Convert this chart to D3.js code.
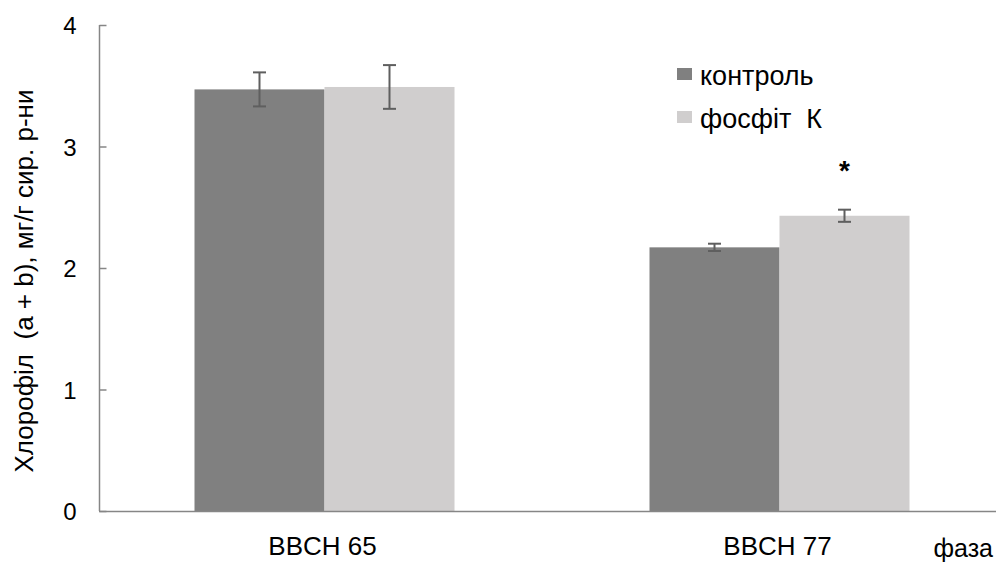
<!DOCTYPE html>
<html><head><meta charset="utf-8">
<script src="https://cdn.jsdelivr.net/npm/d3@7"></script>
<style>body{margin:0;background:#fff}svg{display:block}text{font-family:"Liberation Sans",Arial,sans-serif}</style>
</head><body>
<svg id="c" width="996" height="564"></svg>
<script>
const categories = ["BBCH 65", "BBCH 77"];
const seriesNames = ["контроль", "фосфіт\u00a0\u00a0К"];
const control = [3.47, 2.17];
const phosphite = [3.49, 2.43];
const controlErr = [0.14, 0.03];
const phosphiteErr = [0.18, 0.05];
const yTicks = [0, 1, 2, 3, 4];
const colors = ["#808080", "#d0cece"];

const svg = d3.select("#c");
const y = d3.scaleLinear().domain([0, 4]).range([511, 25]);
const x0 = d3.scaleBand().domain(categories).range([97, 1007]).padding(0);
const x1 = d3.scaleBand().domain([0, 1]).range([97.5, 357.5]).padding(0);
const seriesVals = [control, phosphite];
const seriesErr = [controlErr, phosphiteErr];

// bars
seriesVals.forEach((vals, s) => {
  svg.append("g").selectAll("rect").data(categories).join("rect")
    .attr("x", c => x0(c) + x1(s))
    .attr("width", x1.bandwidth())
    .attr("y", (c, i) => y(vals[i]))
    .attr("height", (c, i) => y(0) - y(vals[i]))
    .attr("fill", colors[s]);
});
// error bars
seriesVals.forEach((vals, s) => {
  const g = svg.append("g").attr("stroke", "#5f5f5f").attr("stroke-width", 2);
  categories.forEach((c, i) => {
    const cx = x0(c) + x1(s) + x1.bandwidth() / 2;
    const hi = y(vals[i] + seriesErr[s][i]), lo = y(vals[i] - seriesErr[s][i]);
    g.append("line").attr("x1", cx).attr("x2", cx).attr("y1", hi).attr("y2", lo);
    g.append("line").attr("x1", cx - 6.5).attr("x2", cx + 6.5).attr("y1", hi).attr("y2", hi);
    g.append("line").attr("x1", cx - 6.5).attr("x2", cx + 6.5).attr("y1", lo).attr("y2", lo);
  });
});
// significance
svg.append("text").attr("x", x0(categories[1]) + x1(1) + x1.bandwidth() / 2).attr("y", 180)
  .attr("text-anchor", "middle").attr("font-size", 28).attr("font-weight", "bold").text("*");

// y axis
const yAxis = svg.append("g").attr("transform", "translate(99.5,0)")
  .call(d3.axisRight(y).tickValues(yTicks).tickSize(7).tickFormat(d3.format("d")));
yAxis.select(".domain").attr("stroke", "#868686").attr("stroke-width", 1.5).attr("d", `M0,${y(4)}V${y(0)}`);
yAxis.selectAll(".tick line").attr("stroke", "#868686").attr("stroke-width", 1.5);
yAxis.selectAll(".tick text").attr("x", -23).attr("dy", "0.36em").attr("text-anchor", "end").attr("font-size", 24).attr("fill", "#000");

// x axis
svg.append("line").attr("x1", 99).attr("x2", 996).attr("y1", y(0) + 0.5).attr("y2", y(0) + 0.5)
  .attr("stroke", "#868686").attr("stroke-width", 1.5);
svg.append("g").selectAll("text").data(categories).join("text")
  .attr("x", c => x0(c) + x0.bandwidth() / 2 - 2).attr("y", 555)
  .attr("text-anchor", "middle").attr("font-size", 26).text(d => d);
svg.append("text").attr("x", 993).attr("y", 557).attr("text-anchor", "end").attr("font-size", 25).text("фаза");

// y title
svg.append("text").attr("transform", "translate(33,281) rotate(-90)")
  .attr("text-anchor", "middle").attr("font-size", 26).text("Хлорофіл\u00a0\u00a0(a + b), мг/г сир. р-ни");

// legend
seriesNames.forEach((n, i) => {
  const by = 85 + i * 43;
  svg.append("rect").attr("x", 677).attr("y", by - 17).attr("width", 15).attr("height", 12).attr("fill", colors[i]);
  svg.append("text").attr("x", 700).attr("y", by).attr("font-size", 27).text(n);
});
</script>
</body></html>
